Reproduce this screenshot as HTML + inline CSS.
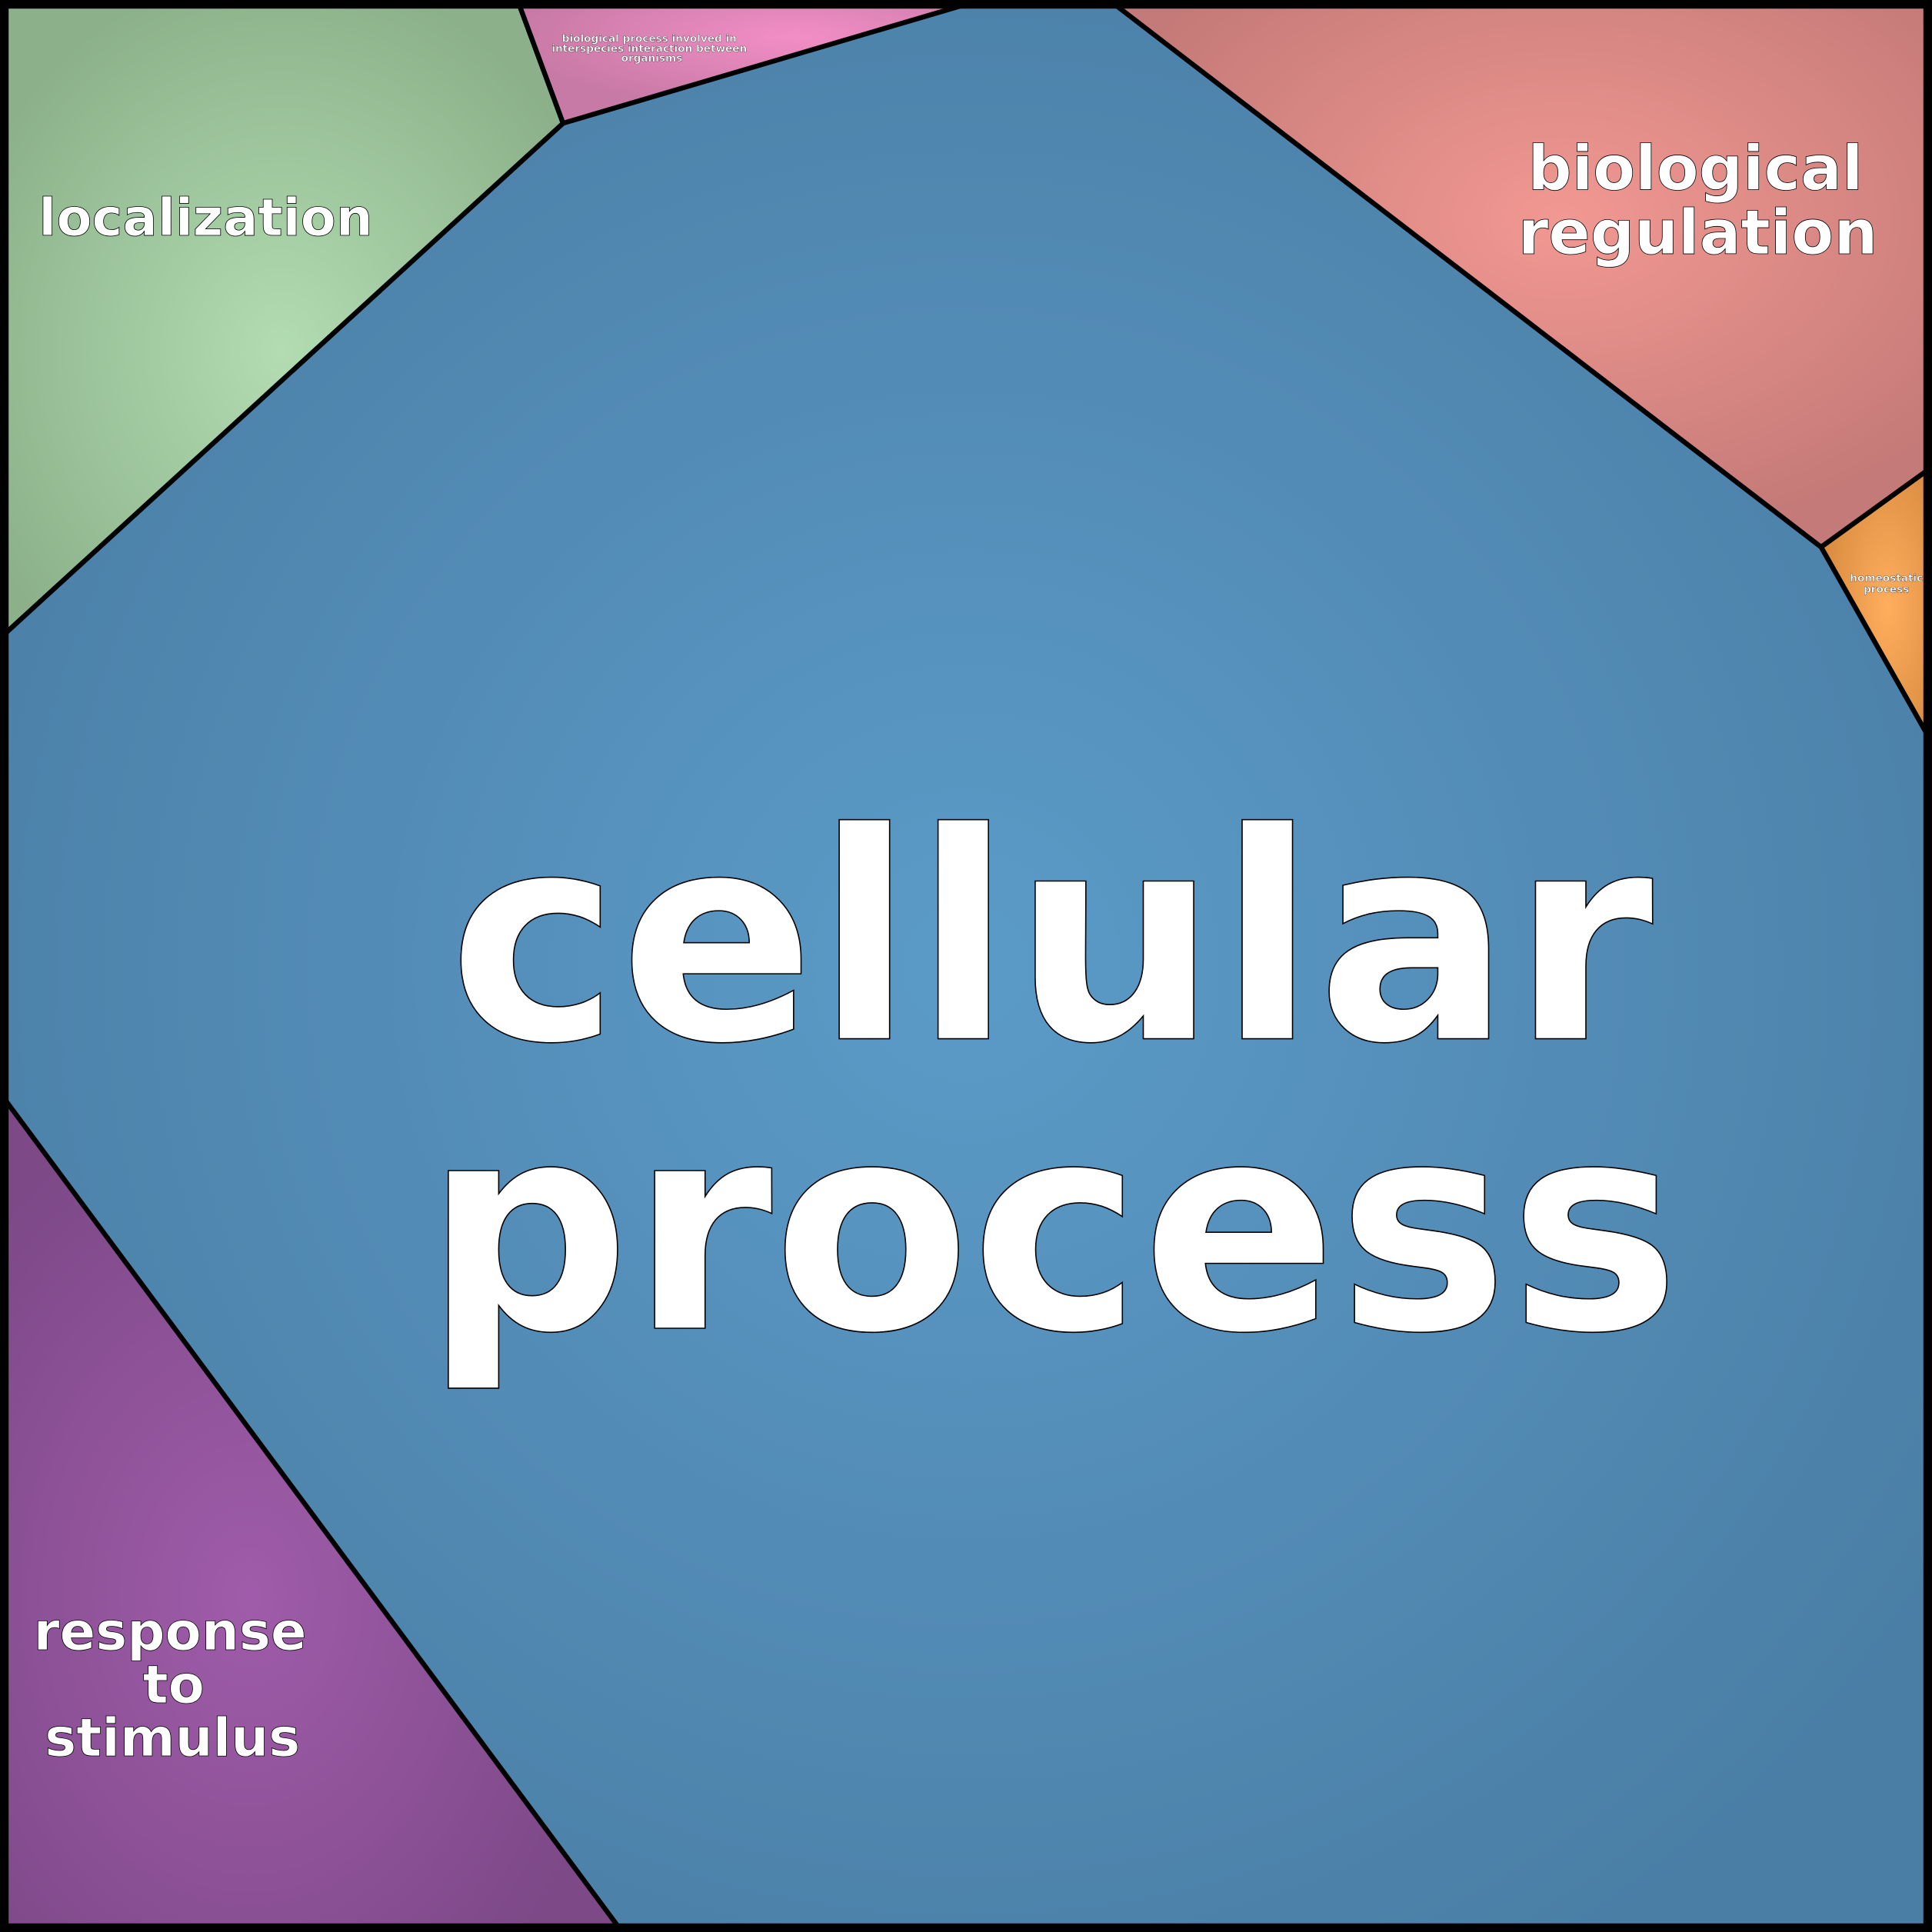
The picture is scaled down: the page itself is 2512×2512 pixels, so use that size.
<!DOCTYPE html>
<html><head><meta charset="utf-8"><style>html,body{margin:0;padding:0;background:#fff}svg{display:block}</style></head>
<body>
<svg xmlns="http://www.w3.org/2000/svg" width="2512" height="2512" viewBox="0 0 1568 1568">
<defs>
<radialGradient id="gb" cx="0.5" cy="0.5" r="0.6"><stop offset="0" stop-color="#5b9bc8"/><stop offset="1" stop-color="#4a7ea5"/></radialGradient>
<radialGradient id="gg" cx="0.5" cy="0.55" r="0.6"><stop offset="0" stop-color="#b2dcb2"/><stop offset="1" stop-color="#8cb18a"/></radialGradient>
<radialGradient id="gr" cx="0.55" cy="0.4" r="0.6"><stop offset="0" stop-color="#f29892"/><stop offset="1" stop-color="#c47a78"/></radialGradient>
<radialGradient id="gp" cx="0.4" cy="0.6" r="0.6"><stop offset="0" stop-color="#a05caa"/><stop offset="1" stop-color="#7d4987"/></radialGradient>
<radialGradient id="go" cx="0.6" cy="0.5" r="0.6"><stop offset="0" stop-color="#ffae5c"/><stop offset="1" stop-color="#d88b40"/></radialGradient>
<radialGradient id="gk" cx="0.6" cy="0.3" r="0.6"><stop offset="0" stop-color="#f28ec6"/><stop offset="1" stop-color="#c87aa6"/></radialGradient>
</defs>
<rect x="0" y="0" width="1568" height="1568" fill="url(#gb)"/>
<g stroke="#000" stroke-width="4" stroke-linejoin="round">
<polygon points="0,0 420,0 457,100 0,518" fill="url(#gg)"/>
<polygon points="420,0 796,0 457,100" fill="url(#gk)"/>
<polygon points="900,0 1568,0 1568,379 1478,444" fill="url(#gr)"/>
<polygon points="1478,444 1568,379 1568,603" fill="url(#go)"/>
<polygon points="0,887 505,1568 0,1568" fill="url(#gp)"/>
</g>
<rect x="3.5" y="3.5" width="1561" height="1561" fill="none" stroke="#000" stroke-width="7"/>
<g font-family="'DejaVu Sans','Liberation Sans',sans-serif" font-weight="bold" fill="#fff" stroke="#000" text-anchor="middle">
<text x="853" y="843" font-size="234" stroke-width="1">cellular</text>
<text x="854" y="1078" font-size="234" stroke-width="1">process</text>
<text x="167" y="191" font-size="42" stroke-width="0.5">localization</text>
<text x="1376" y="154" font-size="50" stroke-width="0.5">biological</text>
<text x="1378" y="206" font-size="50" stroke-width="0.5">regulation</text>
<text x="138" y="1339" font-size="43" stroke-width="0.5">response</text>
<text x="141" y="1382" font-size="43" stroke-width="0.5">to</text>
<text x="140" y="1425" font-size="43" stroke-width="0.5">stimulus</text>
<text x="527" y="34" font-size="8.5" stroke-width="0.2">biological process involved in</text>
<text x="527" y="42" font-size="8.5" stroke-width="0.2">interspecies interaction between</text>
<text x="529" y="50" font-size="8.5" stroke-width="0.2">organisms</text>
<text x="1531" y="472" font-size="8.5" stroke-width="0.2">homeostatic</text>
<text x="1531" y="481" font-size="8.5" stroke-width="0.2">process</text>
</g>
</svg>
</body></html>
